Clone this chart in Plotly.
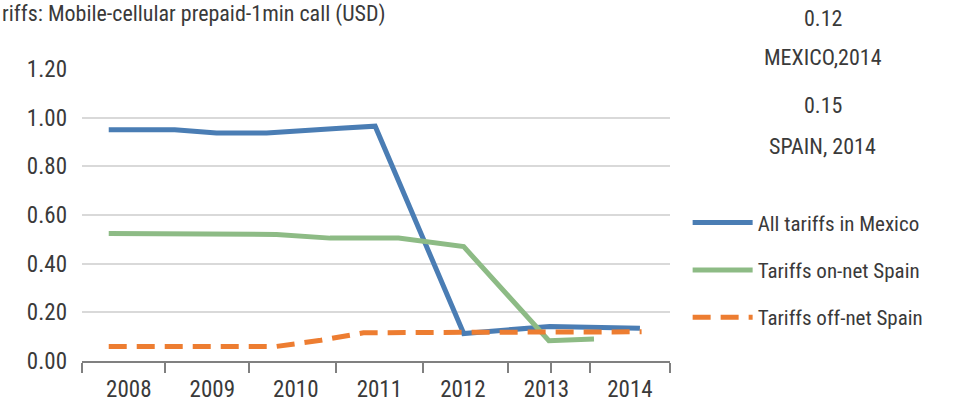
import plotly.graph_objects as go

# ---- data ----
year_labels = ["2008", "2009", "2010", "2011", "2012", "2013", "2014"]
year_pos = [2008, 2009, 2010, 2011, 2012, 2013, 2014]
tick_marks = [2007.44, 2008.43, 2009.44, 2010.48, 2011.52, 2012.54, 2013.05, 2013.52, 2014.48]

mexico_x = [2007.76, 2008.55, 2009.05, 2009.65, 2010.53, 2010.95, 2012.01, 2013.04, 2014.12]
mexico_y = [0.950, 0.950, 0.937, 0.937, 0.956, 0.965, 0.113, 0.142, 0.135]

spain_on_x = [2007.76, 2009.09, 2009.77, 2010.41, 2011.23, 2012.01, 2013.03, 2013.57]
spain_on_y = [0.524, 0.524, 0.520, 0.505, 0.505, 0.470, 0.083, 0.090]

spain_off_x = [2007.76, 2009.77, 2010.30, 2010.81, 2012.01, 2014.14]
spain_off_y = [0.060, 0.060, 0.085, 0.116, 0.118, 0.120]

y_ticks = [0.0, 0.2, 0.4, 0.6, 0.8, 1.0, 1.2]

FONT = "Roboto Condensed, Liberation Sans Narrow, DejaVu Sans Condensed, sans-serif"
TXT = "#3a3a3a"

fig = go.Figure()
fig.add_trace(go.Scatter(x=mexico_x, y=mexico_y, mode="lines", name="All tariffs in Mexico",
                         legendgroup="a", line=dict(color="#4A7DB4", width=5)))
fig.add_trace(go.Scatter(x=spain_on_x, y=spain_on_y, mode="lines", name="Tariffs on-net Spain",
                         legendgroup="b", line=dict(color="#8DBB85", width=5)))
fig.add_trace(go.Scatter(x=spain_off_x, y=spain_off_y, mode="lines", name="Tariffs off-net Spain",
                         legendgroup="c", line=dict(color="#ED7D31", width=5, dash="18px,10px")))

xr = [tick_marks[0], tick_marks[-1]]
fig.update_layout(
    width=956, height=407,
    margin=dict(l=82, r=286, t=69, b=46),
    plot_bgcolor="white", paper_bgcolor="white",
    font=dict(family=FONT, color=TXT, size=23),
    xaxis=dict(range=xr, tickvals=year_pos, ticktext=year_labels, ticks="",
               showgrid=False, zeroline=False, showline=False, automargin=False,
               ticklabelstandoff=12, tickfont=dict(size=23, color=TXT)),
    xaxis2=dict(range=xr, overlaying="x", anchor="y", side="bottom",
                tickvals=tick_marks, ticktext=[""] * len(tick_marks),
                ticks="outside", ticklen=10, tickwidth=2, tickcolor="#808080",
                showline=True, linecolor="#808080", linewidth=2, automargin=False,
                showgrid=False, zeroline=False),
    yaxis=dict(range=[0, 1.2], tickvals=y_ticks, tickformat=".2f",
               showgrid=True, gridcolor="#d9d9d9", gridwidth=1.5, automargin=False,
               zeroline=False, showline=False, ticks="", ticklabelstandoff=14,
               tickfont=dict(size=23, color=TXT)),
    legend=dict(x=1.030, y=0.543, xanchor="left", yanchor="top",
                font=dict(size=21, color=TXT), itemwidth=60, tracegroupgap=17,
                bgcolor="rgba(0,0,0,0)"),
    showlegend=True,
)
fig.add_trace(go.Scatter(x=xr, y=[None, None], xaxis="x2", showlegend=False, hoverinfo="skip"))

anns = [
    ("0.12", 18), ("MEXICO,2014", 57), ("0.15", 106), ("SPAIN, 2014", 146),
]
for text, py in anns:
    fig.add_annotation(text=text, xref="paper", yref="paper",
                       x=(823 - 82) / 588, y=(361 - py) / 292,
                       xanchor="center", yanchor="middle", showarrow=False,
                       font=dict(size=22, color=TXT))

fig.add_annotation(text="riffs: Mobile-cellular prepaid-1min call (USD)",
                   xref="paper", yref="paper", x=(0 - 82) / 588, y=(361 - 14) / 292,
                   xanchor="left", yanchor="middle", showarrow=False,
                   font=dict(size=22, color=TXT))

fig.write_html("out.html", config={"displayModeBar": False},
               post_script="document.body.style.margin='0';")
